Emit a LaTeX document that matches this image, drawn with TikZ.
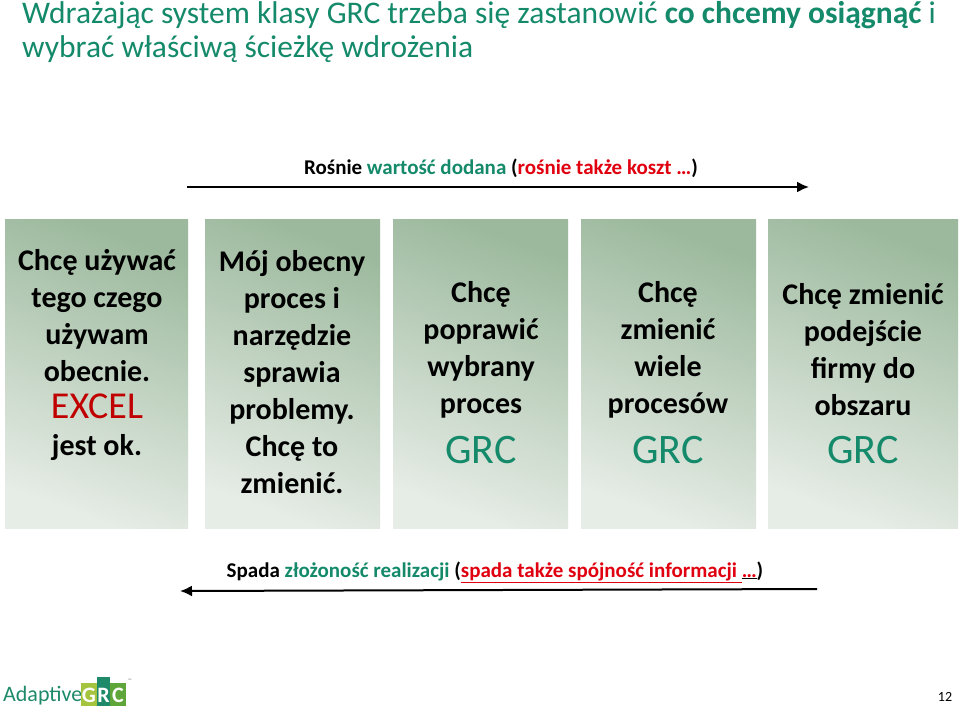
\documentclass[tikz,border=0pt]{standalone}
\usepackage{fontspec}
\setmainfont{Carlito}
\usetikzlibrary{arrows.meta}
\definecolor{tealg}{HTML}{148A6B}
\definecolor{redt}{HTML}{E0000F}
\definecolor{excel}{HTML}{C00000}
\definecolor{boxdark}{HTML}{9CB99D}
\definecolor{boxlight}{HTML}{E6ECE6}
\definecolor{lgG}{HTML}{A5C43D}
\definecolor{lgR}{HTML}{1E8A6A}
\definecolor{lgC}{HTML}{5EA63A}
\begin{document}
\begin{tikzpicture}[x=1pt,y=-1pt,
  cardtxt/.style={align=center, font=\fontsize{30}{37}\selectfont\bfseries, inner sep=0pt},
  grc/.style={text=tealg, font=\fontsize{42}{44}\selectfont},
  lbl/.style={font=\fontsize{21}{24}\selectfont\bfseries, inner sep=0pt},
  arr/.style={line width=2pt, -{Latex[length=12pt,width=11pt]}}]
\useasboundingbox (0,0) rectangle (960,713);
\fill[white] (0,0) rectangle (960,713);
\node[anchor=north west, align=left, text=tealg, inner sep=0pt,
  font=\fontsize{31.5}{34}\selectfont] (title) at (22,1)
  {Wdrażając system klasy GRC trzeba się zastanowić \textbf{co chcemy osiągnąć} i\\ wybrać właściwą ścieżkę wdrożenia};
% top arrow
\node[lbl] (toplbl) at (501,168) {Rośnie \textcolor{tealg}{wartość dodana} (\textcolor{redt}{rośnie także koszt …})};
\coordinate (ta) at (187,187);
\coordinate (tb) at (809,187);
\draw[arr] (ta) -- (tb);
% cards
\foreach \n/\a/\b in {c1/5/188, c2/205/380, c3/393/568, c4/581/756, c5/768/958}{
  \shade[shading=axis, top color=boxdark, bottom color=boxlight, shading angle=-20] (\a,219) rectangle (\b,528);
  \coordinate (\n) at ({(\a+\b)/2},373);
}
\node[cardtxt] (t1) at (97,355) {Chcę używać\\tego czego\\używam\\obecnie.\\\textcolor{excel}{\mdseries\fontsize{38}{37}\selectfont EXCEL}\\jest ok.};
\node[cardtxt] (t2) at (292,372) {Mój obecny\\proces i\\narzędzie\\sprawia\\problemy.\\Chcę to\\zmienić.};
\node[cardtxt] (t3) at (481,350) {Chcę\\poprawić\\wybrany\\proces};
\node[grc] (g3) at (481,450) {GRC};
\node[cardtxt] (t4) at (668,350) {Chcę\\zmienić\\wiele\\procesów};
\node[grc] (g4) at (668,450) {GRC};
\node[cardtxt] (t5) at (863,350) {Chcę zmienić\\podejście\\firmy do\\obszaru};
\node[grc] (g5) at (863,450) {GRC};
% bottom arrow
\node[lbl] (botlbl) at (495,572) {Spada \textcolor{tealg}{złożoność realizacji} (\textcolor{redt}{\underline{spada także spójność informacji }}\underline{\textcolor{redt}{…}})};
\coordinate (ba) at (817,589);
\coordinate (bb) at (180,591);
\draw[arr] (ba) -- (bb);
% logo
\node[anchor=west, text=lgR, inner sep=0pt, font=\fontsize{22}{24}\selectfont] (adapt) at (3,696) {Adaptive};
\fill[lgG] (81,683) rectangle (97,706);
\fill[lgR] (97,677) rectangle (110,706);
\fill[lgC] (110,683) rectangle (126,706);
\node[text=white, font=\fontsize{22}{22}\selectfont\bfseries, inner sep=0pt] (lg) at (89,695) {G};
\node[text=white, font=\fontsize{22}{22}\selectfont\bfseries, inner sep=0pt] (lr) at (103.5,695) {R};
\node[text=white, font=\fontsize{22}{22}\selectfont\bfseries, inner sep=0pt] (lc) at (118,695) {C};
\node[font=\tiny, inner sep=0pt, text=gray] (tm) at (130,681) {™};
\node[font=\fontsize{14}{16}\selectfont, inner sep=0pt] (pg) at (945,697) {12};
\end{tikzpicture}
\end{document}
